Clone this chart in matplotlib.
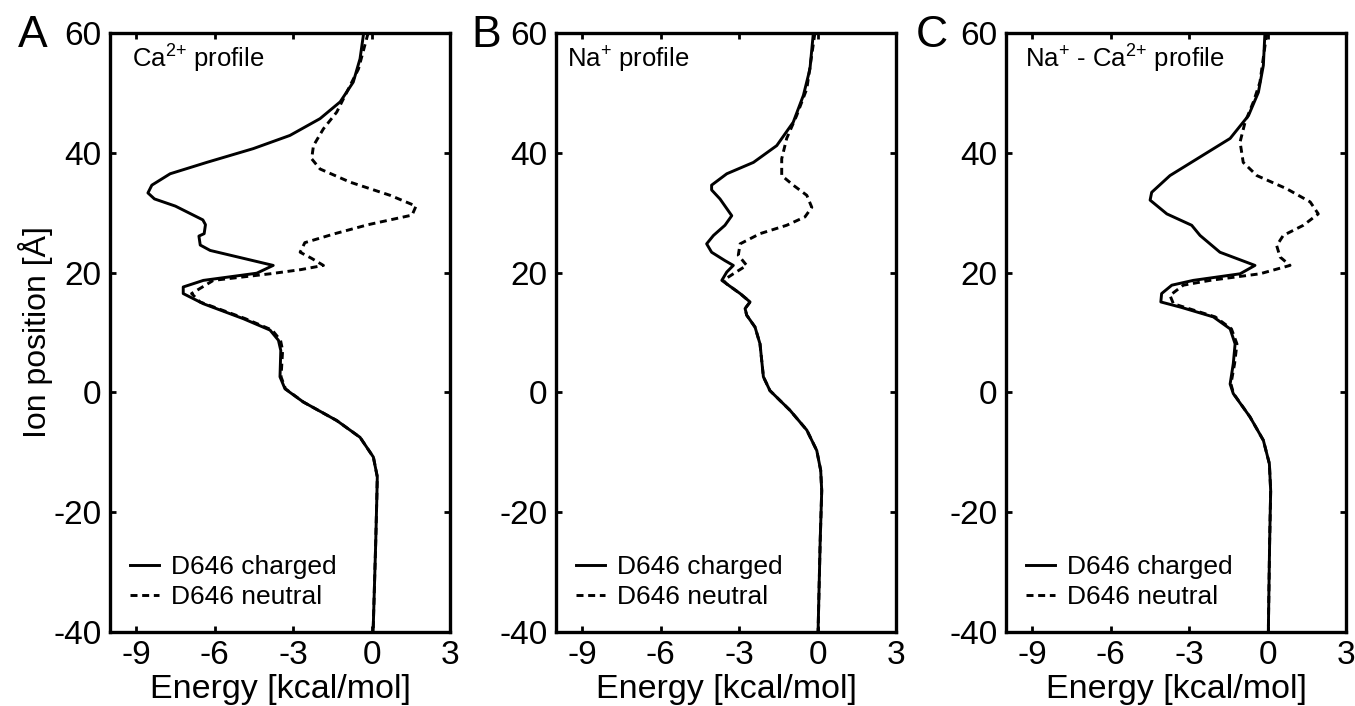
import matplotlib
matplotlib.use("Agg")
import matplotlib.pyplot as plt

plt.rcParams['font.family'] = ['Liberation Sans', 'DejaVu Sans']
plt.rcParams['axes.unicode_minus'] = False
plt.rcParams['mathtext.fontset'] = 'custom'
plt.rcParams['mathtext.rm'] = 'Liberation Sans'
plt.rcParams['mathtext.it'] = 'Liberation Sans'
plt.rcParams['mathtext.default'] = 'regular'

# ---- data: ion position [A] and energy [kcal/mol] ----
# A: Ca2+ profile
ca_charged_pos = [60, 55.7, 51.8, 48.5, 45.7, 42.9, 40.7, 38.4, 36.5, 34.6, 33.3, 32.3, 31.1, 28.8, 28.0,
                  26.5, 26.1, 24.6, 23.7, 21.2, 19.9, 18.7, 17.6, 16.5, 14.8, 12.3, 10.4, 8.7, 7.0,
                  2.6, 0.6, -1.6, -4.7, -7.5, -10.8, -14.1, -18.0, -25, -40]
ca_charged_e = [-0.3, -0.44, -0.70, -1.2, -1.97, -3.12, -4.52, -6.3, -7.7, -8.4, -8.55, -8.3, -7.5, -6.45, -6.35,
                -6.4, -6.6, -6.55, -6.17, -3.76, -4.39, -6.43, -7.2, -7.2, -6.43, -4.9, -3.88, -3.56, -3.47,
                -3.5, -3.31, -2.61, -1.33, -0.44, 0.07, 0.22, 0.2, 0.16, 0.06]
ca_neutral_pos = [60, 54, 50.1, 46.8, 44.0, 41.2, 39.0, 37.3, 35.1, 32.9, 31.1, 29.6, 28.0, 26.5, 25.0,
                  23.4, 22.4, 21.2, 20.5, 19.8, 18.7, 16.5, 15.1, 12.3, 10.4, 8.7, 7.0, 2.6, 0.6,
                  -1.6, -4.7, -7.5, -10.8, -14.1, -18.0, -25, -40]
ca_neutral_e = [-0.13, -0.5, -0.95, -1.33, -1.84, -2.22, -2.29, -1.97, -0.82, 0.71, 1.7, 1.55, -0.13, -1.4, -2.55,
                -2.73, -2.3, -1.84, -2.7, -3.88, -6.05, -6.88, -6.56, -4.82, -3.8, -3.48, -3.4, -3.46, -3.29,
                -2.61, -1.33, -0.44, 0.07, 0.22, 0.2, 0.16, 0.06]

# B: Na+ profile
na_charged_pos = [60, 54.0, 49.6, 45.1, 41.2, 38.4, 36.5, 34.6, 33.8, 32.3, 29.5, 27.9, 26.2, 24.8, 23.4,
                  22.0, 21.2, 20.1, 18.7, 18.1, 16.5, 15.1, 14.0, 12.9, 10.9, 8.1, 2.6, 0.3, -3.0,
                  -6.3, -9.7, -13.0, -16.4, -25, -40]
na_charged_e = [-0.16, -0.29, -0.54, -0.93, -1.56, -2.45, -3.47, -4.05, -4.05, -3.73, -3.28, -3.54, -3.98, -4.24, -4.05,
                -3.54, -3.22, -3.47, -3.66, -3.47, -2.96, -2.58, -2.77, -2.71, -2.39, -2.2, -2.07, -1.82, -1.05,
                -0.41, -0.03, 0.12, 0.16, 0.1, 0.02]
na_neutral_pos = [60, 50.7, 46.2, 42.4, 39.0, 36.2, 34.6, 32.9, 30.9, 29.3, 27.9, 26.5, 24.8, 22.9, 21.2,
                  19.8, 18.7, 18.1, 16.5, 15.1, 14.0, 12.9, 10.9, 8.1, 2.6, 0.3, -3.0, -6.3, -9.7,
                  -13.0, -16.4, -25, -40]
na_neutral_e = [-0.1, -0.41, -0.8, -1.18, -1.37, -1.37, -0.93, -0.41, -0.22, -0.48, -1.18, -2.2, -2.96, -3.03, -2.71,
                -3.22, -3.6, -3.47, -2.96, -2.58, -2.77, -2.71, -2.39, -2.2, -2.07, -1.82, -1.05, -0.41, -0.03,
                0.12, 0.16, 0.1, 0.02]

# C: Na+ - Ca2+ profile
diff_charged_pos = [60, 54.6, 50.1, 46.2, 42.4, 39.3, 36.2, 33.4, 32.1, 29.8, 27.9, 26.2, 23.4, 21.2, 19.8,
                    18.7, 17.9, 16.5, 15.1, 14.2, 12.6, 10.6, 8.1, 4.8, 1.4, -0.2, -4.1, -8.0, -11.9,
                    -16.4, -25, -40]
diff_charged_e = [-0.1, -0.16, -0.35, -0.73, -1.43, -2.58, -3.73, -4.43, -4.49, -3.85, -2.9, -2.58, -1.82, -0.48, -1.05,
                  -2.84, -3.66, -4.05, -4.08, -3.3, -2.07, -1.43, -1.24, -1.31, -1.43, -1.31, -0.67, -0.16, 0.07,
                  0.12, 0.08, 0.03]
diff_neutral_pos = [60, 51.8, 48.5, 45.1, 41.8, 38.4, 36.2, 34.0, 31.8, 29.8, 27.9, 26.2, 24.5, 22.6, 21.2,
                    19.8, 18.7, 17.9, 16.2, 14.8, 12.6, 10.6, 8.1, 4.8, 1.4, -0.2, -4.1, -8.0, -11.9,
                    -16.4, -25, -40]
diff_neutral_e = [-0.03, -0.29, -0.54, -0.86, -1.05, -0.93, -0.41, 0.73, 1.63, 1.94, 1.37, 0.6, 0.35, 0.48, 0.86,
                  -0.29, -2.2, -3.22, -3.73, -3.6, -2.0, -1.38, -1.17, -1.26, -1.4, -1.3, -0.67, -0.16, 0.07,
                  0.12, 0.08, 0.03]

panels = [
    ("A", r"Ca$^{2{+}}$ profile", 0.065, ca_charged_pos, ca_charged_e, ca_neutral_pos, ca_neutral_e),
    ("B", r"Na$^{+}$ profile", 0.032, na_charged_pos, na_charged_e, na_neutral_pos, na_neutral_e),
    ("C", r"Na$^{+}$ - Ca$^{2{+}}$ profile", 0.056, diff_charged_pos, diff_charged_e, diff_neutral_pos, diff_neutral_e),
]
lefts = [110, 556, 1006]
letter_x = [18, 471, 916]

W, H = 1355, 706
fig = plt.figure(figsize=(W / 100, H / 100), dpi=100)

for i, (letter, title, tx, cp, ce, npos, ne) in enumerate(panels):
    ax = fig.add_axes([lefts[i] / W, (H - 632) / H, 340 / W, 599 / H])
    ax.plot(ce, cp, color='black', lw=2.1, solid_joinstyle='round', label='D646 charged')
    ax.plot(ne, npos, color='black', lw=2.1, linestyle=(0, (2.4, 1.6)), label='D646 neutral')
    ax.set_xlim(-10, 3)
    ax.set_ylim(-40, 60)
    ax.set_xticks([-9, -6, -3, 0, 3])
    ax.set_yticks([-40, -20, 0, 20, 40, 60])
    ax.tick_params(direction='in', length=4, width=2, top=True, right=True,
                   labelsize=24, pad=6)
    for sp in ax.spines.values():
        sp.set_linewidth(2.4)
    ax.set_xlabel("Energy [kcal/mol]", fontsize=24.5, labelpad=2)
    if i == 0:
        ax.set_ylabel("Ion position [Å]", fontsize=23, labelpad=0)
    ax.text(tx, 0.943, title, transform=ax.transAxes, fontsize=18.5, va='baseline', ha='left')
    ax.legend(loc='lower left', bbox_to_anchor=(0.06, 0.038), frameon=False, fontsize=19,
              handlelength=1.1, handletextpad=0.45, labelspacing=0.24, borderpad=0,
              borderaxespad=0)
    fig.text(letter_x[i] / W, (H - 47) / H, letter, fontsize=32, va='baseline', ha='left')

fig.savefig("out.png", dpi=100)
